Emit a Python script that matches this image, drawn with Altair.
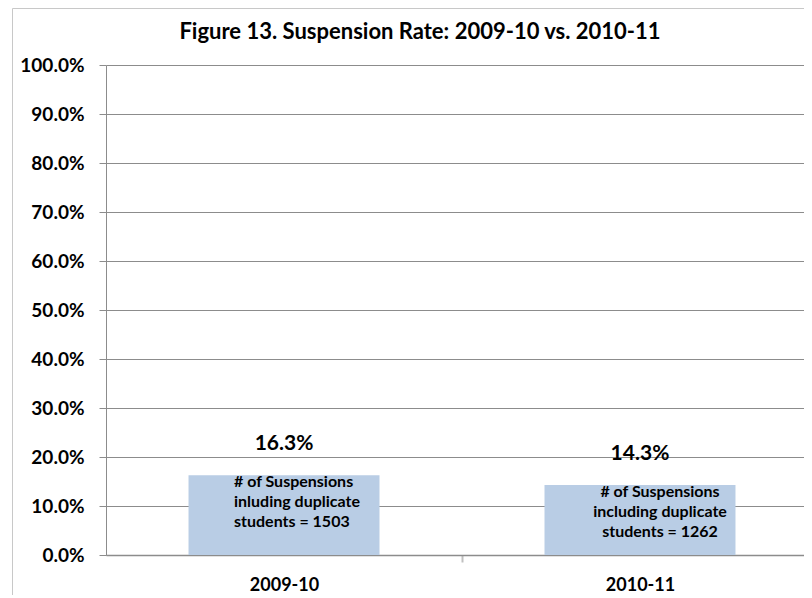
import altair as alt
import pandas as pd

years = ["2009-10", "2010-11"]
rates = [0.163, 0.143]
rate_labels = ["16.3%", "14.3%"]
notes = [
    ["# of Suspensions", "inluding duplicate", "students = 1503"],
    ["# of Suspensions", "including duplicate", "students = 1262"],
]
title_text = "Figure 13. Suspension Rate: 2009-10 vs. 2010-11"
y_ticks = [i / 10 for i in range(11)]

df = pd.DataFrame({
    "year": years,
    "rate": rates,
    "label": rate_labels,
    "note": ["\n".join(n) for n in notes],
})

FONT = "Lato"
GRID = "#8c8c8c"

x_enc = alt.X(
    "year:N",
    sort=years,
    scale=alt.Scale(range=[0, 712], paddingInner=0.4635, paddingOuter=0.2318),
    axis=alt.Axis(
        title=None,
        labelFont=FONT, labelFontWeight="bold", labelFontSize=18, labelColor="#000",
        labelAngle=0, labelBaseline="middle", labelPadding=23,
        tickOffset=178, labelOffset=-178,
        tickSize=7, tickColor="#c0c0c0", tickWidth=2,
        domainColor=GRID, domainWidth=1.5, grid=False,
    ),
)
y_enc = alt.Y(
    "rate:Q",
    scale=alt.Scale(domain=[0, 1], nice=False),
    axis=alt.Axis(
        title=None, values=y_ticks, format=".1%",
        labelFont=FONT, labelFontWeight="bold", labelFontSize=19, labelColor="#000",
        labelPadding=15, tickSize=7, tickColor=GRID,
        domainColor=GRID, grid=True, gridColor=GRID, gridWidth=1,
    ),
)

base = alt.Chart(df)

border = base.mark_rect(fill=None, stroke="#c8c8c8", strokeWidth=1).encode(
    x=alt.value(-93.5), x2=alt.value(760), y=alt.value(-56.5), y2=alt.value(600)
).transform_filter(alt.datum.year == years[0])

bars = base.mark_bar(color="#b9cde5").encode(x=x_enc, y=y_enc)

values = base.mark_text(
    font=FONT, fontWeight="bold", fontSize=21, color="#000", baseline="middle", dy=-31
).encode(x=alt.X("year:N", sort=years), y="rate:Q", text="label:N")

note_left = base.transform_filter(alt.datum.year == years[0]).mark_text(
    font=FONT, fontWeight="bold", fontSize=16, color="#000", align="left",
    baseline="top", dx=-50, dy=-1, lineBreak="\n", lineHeight=20,
).encode(x=alt.X("year:N", sort=years), y="rate:Q", text="note:N")

note_right = base.transform_filter(alt.datum.year == years[1]).mark_text(
    font=FONT, fontWeight="bold", fontSize=16, color="#000", align="center",
    baseline="top", dx=20, dy=-1, lineBreak="\n", lineHeight=20,
).encode(x=alt.X("year:N", sort=years), y="rate:Q", text="note:N")

title = base.transform_filter(alt.datum.year == years[0]).mark_text(
    font=FONT, fontWeight="bold", fontSize=22, color="#000", baseline="middle", align="center",
).encode(x=alt.value(314), y=alt.value(-33.5), text=alt.value(title_text))

chart = alt.layer(border, bars, values, note_left, note_right, title).properties(
    width=698, height=490,
    autosize=alt.AutoSizeParams(type="none"),
    padding={"left": 98, "top": 57, "right": 0, "bottom": 40},
).configure_view(stroke=None)

chart.save("out.html", embed_options={"renderer": "svg", "actions": False})
